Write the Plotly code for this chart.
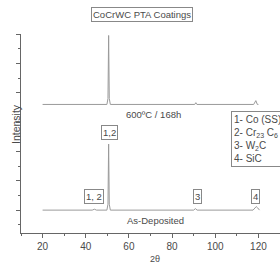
import plotly.graph_objects as go

# As-deposited pattern (2θ, intensity a.u.)
x_asdep = [20, 43, 44, 45, 49.8, 50.3, 50.6, 50.9, 51.4, 90, 90.8, 91.6, 117.5, 118.5, 119, 119.6, 120.5]
y_asdep = [1.0, 1.0, 1.03, 1.0, 1.0, 1.2, 3.25, 1.2, 1.0, 1.0, 1.05, 1.0, 1.0, 1.08, 1.12, 1.08, 1.0]

# 600ºC / 168h pattern
x_heat = [20, 49.8, 50.3, 50.6, 50.9, 51.4, 90.5, 91, 91.5, 117.8, 118.8, 119.5, 120]
y_heat = [4.6, 4.6, 4.8, 6.95, 4.8, 4.6, 4.6, 4.66, 4.6, 4.6, 4.73, 4.6, 4.6]

peak_labels = ["1,2", "1, 2", "3", "4"]
peak_x = [50.9, 43.6, 91.6, 118.8]
peak_y = [3.63, 1.45, 1.45, 1.45]

x_ticks = [20, 40, 60, 80, 100, 120]

font = "Liberation Sans, Arial, sans-serif"
gray = "#4a4a4a"
line_c = "#9a9a9a"
box_c = "#888888"

fig = go.Figure()
fig.add_trace(go.Scatter(x=x_asdep, y=y_asdep, mode="lines", line=dict(color=line_c, width=1), showlegend=False))
fig.add_trace(go.Scatter(x=x_heat, y=y_heat, mode="lines", line=dict(color=line_c, width=1), showlegend=False))

for t, px, py in zip(peak_labels, peak_x, peak_y):
    fig.add_annotation(x=px, y=py, xref="x", yref="y", text=t, showarrow=False,
                       font=dict(size=9.5, color=gray, family=font),
                       bordercolor=box_c, borderwidth=1, borderpad=1, bgcolor="white")
fig.add_annotation(x=71.3, y=4.27, xref="x", yref="y", text="600ºC / 168h", showarrow=False,
                   font=dict(size=9.5, color=gray, family=font))
fig.add_annotation(x=72.2, y=0.66, xref="x", yref="y", text="As-Deposited", showarrow=False,
                   font=dict(size=9.5, color=gray, family=font))
fig.add_annotation(x=107.3, y=4.37, xref="x", yref="y", xanchor="left", yanchor="top", align="left",
                   text="1- Co (SS)<br>2- Cr<sub>23</sub> C<sub>6</sub><br>3- W<sub>2</sub>C<br>4- SiC",
                   showarrow=False, font=dict(size=10, color=gray, family=font),
                   bordercolor=box_c, borderwidth=1, borderpad=2, bgcolor="white")
fig.add_annotation(x=(142 - 21) / 259, y=(233 - 15) / 199, xref="paper", yref="paper",
                   text="CoCrWC PTA Coatings", showarrow=False, yanchor="middle",
                   font=dict(size=9.5, color=gray, family=font),
                   bordercolor=box_c, borderwidth=1, borderpad=1)
fig.add_annotation(x=(155 - 21) / 259, y=(233 - 259) / 199, xref="paper", yref="paper", text="2θ",
                   showarrow=False, yanchor="middle", font=dict(size=9, color=gray, family=font))
fig.add_annotation(x=(8 - 21) / 259, y=(233 - 124) / 199, xref="paper", yref="paper", text="Intensity",
                   showarrow=False, textangle=-90, font=dict(size=10.5, color=gray, family=font))

fig.update_layout(
    width=280, height=266,
    margin=dict(l=21, r=0, t=34, b=33),
    paper_bgcolor="white", plot_bgcolor="white",
    xaxis=dict(range=[10, 130], tickvals=x_ticks, ticks="outside", ticklen=4, tickcolor="#666",
               showline=True, linecolor="#666", linewidth=1, showgrid=False, zeroline=False,
               tickfont=dict(size=10, color=gray, family=font),
               minor=dict(dtick=10, tick0=0, ticks="outside", ticklen=2, tickcolor="#666")),
    yaxis=dict(range=[0.22, 7], tick0=1, dtick=1, ticks="outside", ticklen=4, tickcolor="#666",
               showline=True, linecolor="#666", linewidth=1, showgrid=False, zeroline=False,
               showticklabels=False,
               minor=dict(dtick=0.5, tick0=0.5, ticks="outside", ticklen=2, tickcolor="#666")),
)

fig.write_html("out.html")
